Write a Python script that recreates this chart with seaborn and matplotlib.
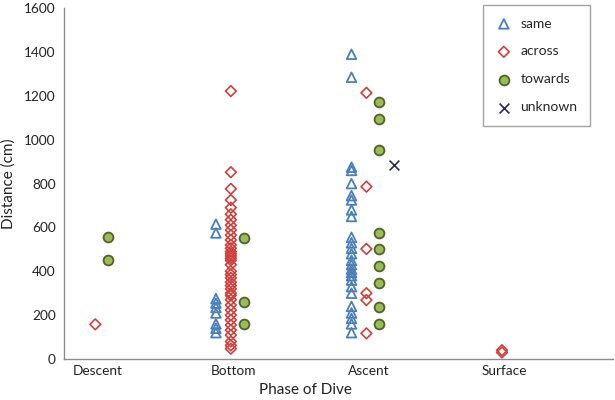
import matplotlib
matplotlib.use("Agg")
import matplotlib.pyplot as plt
import seaborn as sns
import pandas as pd

phases = ["Descent", "Bottom", "Ascent", "Surface"]

# same
same_bottom = [615, 575, 275, 255, 235, 210, 160, 140, 120]
same_ascent = [1390, 1285, 875, 860, 800, 745, 725, 680, 650, 555, 530, 505, 480,
               450, 430, 410, 395, 380, 360, 330, 300, 240, 210, 185, 160, 120]

# across
across_descent = [158]
across_bottom = [1222, 852, 776, 725, 690, 660, 635, 610, 588, 565, 543, 520, 505,
                 490, 480, 470, 460, 450, 430, 400, 385, 370, 350, 335, 320, 300,
                 290, 270, 246, 223, 200, 178, 155, 132, 109, 80, 62, 47]
across_ascent = [1214, 786, 502, 300, 269, 117]
across_surface = [40, 30]

# towards
towards_descent = [555, 450]
towards_bottom = [550, 258, 160]
towards_ascent = [1173, 1094, 953, 573, 500, 425, 348, 238, 160]

# unknown
unknown_ascent = [885]

series = ["same", "across", "towards", "unknown"]

records = []
def add(t, phase, vals):
    for v in vals:
        records.append({"type": t, "phase": phase, "dist": v})

add("same", "Bottom", same_bottom)
add("same", "Ascent", same_ascent)
add("across", "Descent", across_descent)
add("across", "Bottom", across_bottom)
add("across", "Ascent", across_ascent)
add("across", "Surface", across_surface)
add("towards", "Descent", towards_descent)
add("towards", "Bottom", towards_bottom)
add("towards", "Ascent", towards_ascent)
add("unknown", "Ascent", unknown_ascent)
df = pd.DataFrame(records)

offsets = {"same": -0.13, "across": -0.02, "towards": 0.075, "unknown": 0.18}
df["x"] = df["phase"].map({p: i + 1 for i, p in enumerate(phases)}) + df["type"].map(offsets)

sns.set_theme(style="white")
plt.rcParams["font.family"] = ["Lato", "DejaVu Sans"]

fig = plt.figure(figsize=(6.15, 4.0), dpi=100)
ax = fig.add_axes([0.104, 0.1025, 0.893, 0.877])

styles = {
    "same": dict(marker="^", facecolor="none", edgecolor="#4a7ebb", s=48, linewidth=1.3),
    "across": dict(marker="D", facecolor="none", edgecolor="#d0413e", s=30, linewidth=1.2),
    "towards": dict(marker="o", facecolor="#9bbb59", edgecolor="#4f6228", s=50, linewidth=1.3),
}

for t in series:
    sub = df[df["type"] == t]
    if t == "unknown":
        sns.scatterplot(data=sub, x="x", y="dist", ax=ax, label=t,
                        marker="x", color="#2a2a5a", s=50, linewidth=1.2)
    else:
        st = styles[t]
        sns.scatterplot(data=sub, x="x", y="dist", ax=ax, label=t,
                        marker=st["marker"], facecolor=st["facecolor"],
                        edgecolor=st["edgecolor"], s=st["s"], linewidth=st["linewidth"])

ax.set_xlim(0.749, 4.80)
ax.set_ylim(0, 1600)
ax.set_yticks(range(0, 1601, 200))
ax.set_xticks([1, 2, 3, 4])
ax.set_xticklabels(phases)
ax.tick_params(axis="y", length=0, labelsize=9.8, colors="#222222", pad=6)
ax.tick_params(axis="x", length=0, labelsize=9.8, colors="#222222", pad=4)
ax.set_xlabel("Phase of Dive", fontsize=11, color="#222222")
ax.xaxis.set_label_coords(0.44, -0.068)
ax.set_ylabel("Distance (cm)", fontsize=11, color="#222222", labelpad=6)

for side in ["top", "right"]:
    ax.spines[side].set_visible(False)
for side in ["left", "bottom"]:
    ax.spines[side].set_color("#8c8c8c")
    ax.spines[side].set_linewidth(1.0)

leg = ax.legend(loc="upper right", bbox_to_anchor=(590 / 615, 1 - 5 / 400),
                bbox_transform=fig.transFigure, frameon=True,
                fontsize=10, labelspacing=1.15, borderpad=0.9, handletextpad=0.6,
                handlelength=1.2, borderaxespad=0.0, fancybox=False)
leg.get_frame().set_edgecolor("#8c8c8c")
leg.get_frame().set_linewidth(1.0)

fig.savefig("out.png", dpi=100)
